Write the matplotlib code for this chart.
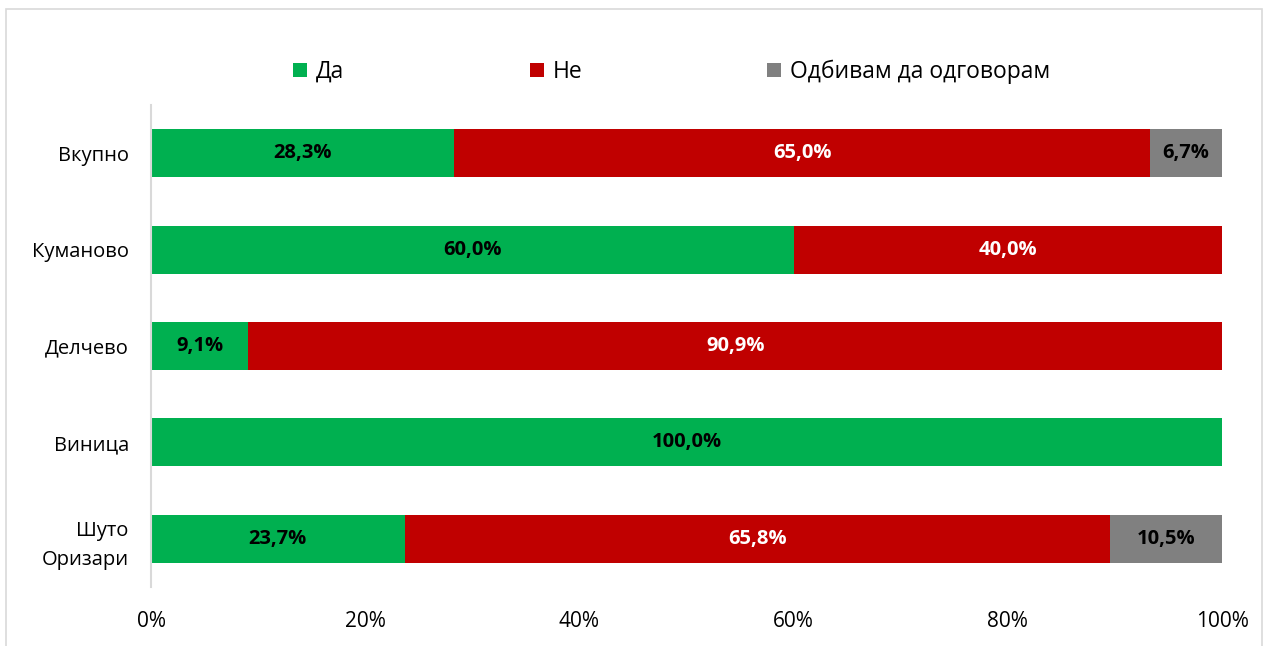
import matplotlib.pyplot as plt
from matplotlib.patches import Rectangle
import numpy as np

categories = ["Вкупно", "Куманово", "Делчево", "Виница", "Шуто\nОризари"]
da = [28.3, 60.0, 9.1, 100.0, 23.7]
ne = [65.0, 40.0, 90.9, 0.0, 65.8]
odbivam = [6.7, 0.0, 0.0, 0.0, 10.5]
series_names = ["Да", "Не", "Одбивам да одговорам"]
colors = ["#00B050", "#C00000", "#808080"]
label_colors = ["black", "white", "black"]
xticks = [0, 20, 40, 60, 80, 100]

plt.rcParams['font.family'] = ['Open Sans', 'DejaVu Sans']

W, H = 1265, 646
fig = plt.figure(figsize=(W / 100, H / 100), dpi=100)
ax = fig.add_axes([151 / W, 1 - 587 / H, (1222 - 151) / W, (587 - 105) / H])

y = np.arange(len(categories))
left = np.zeros(len(categories))
for vals, name, col, lcol in zip([da, ne, odbivam], series_names, colors, label_colors):
    vals = np.array(vals)
    ax.barh(y, vals, left=left, height=0.5, color=col, label=name)
    for yi, l, v in zip(y, left, vals):
        if v > 0:
            ax.text(l + v / 2, yi, f"{v:.1f}%".replace(".", ","), ha="center", va="center",
                    color=lcol, fontsize=14.5, fontweight="bold")
    left = left + vals

ax.set_xlim(0, 100)
ax.set_ylim(len(categories) - 0.5, -0.5)
ax.set_yticks(y)
ax.set_yticklabels(categories, fontsize=14.5, linespacing=1.6)
ax.set_xticks(xticks)
ax.set_xticklabels([f"{t}%" for t in xticks], fontsize=15)
ax.tick_params(axis="both", length=0)
ax.tick_params(axis="y", pad=16)
ax.tick_params(axis="x", pad=17)
for s in ["top", "right", "bottom"]:
    ax.spines[s].set_visible(False)
ax.spines["left"].set_color("#d9d9d9")
ax.spines["left"].set_linewidth(1.5)

# legend entries on an evenly spaced row
handles, labels = ax.get_legend_handles_labels()
legend_x = [293, 530, 767]
for h, lab, lx in zip(handles, labels, legend_x):
    fig.legend([h], [lab], loc="center left", bbox_to_anchor=(lx / W, 1 - 72 / H),
               frameon=False, fontsize=16.5, handlelength=0.6, handleheight=0.6,
               handletextpad=0.4, borderpad=0, borderaxespad=0)

# light frame around the chart area
fig.patches.append(Rectangle((6 / W, -0.01), (1262 - 6) / W, 1 - 9 / H + 0.01,
                             transform=fig.transFigure, fill=False,
                             edgecolor="#d9d9d9", linewidth=1.2))

fig.savefig("out.png", dpi=100)
